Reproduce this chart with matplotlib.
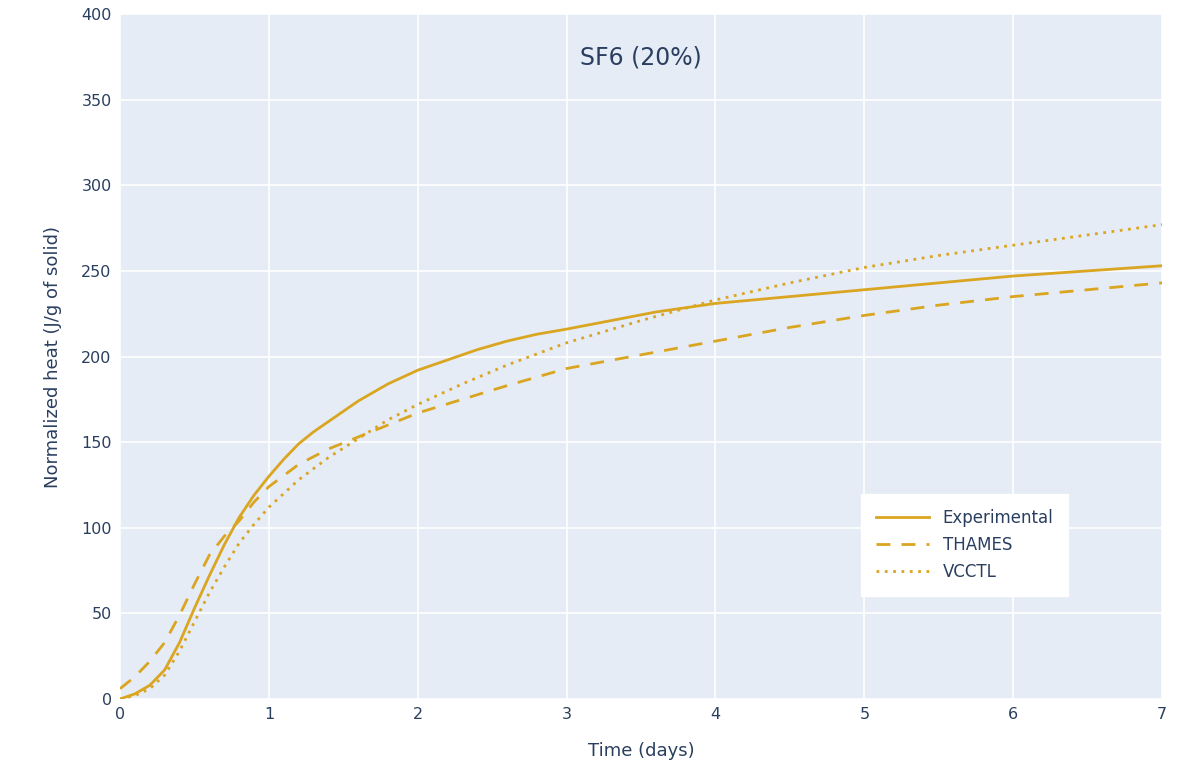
import numpy as np
import matplotlib.pyplot as plt

# values
exp_t = [0, 0.1, 0.2, 0.3, 0.4, 0.5, 0.6, 0.7, 0.8, 0.9, 1.0, 1.1, 1.2, 1.3, 1.4, 1.5, 1.6, 1.7,
         1.8, 1.9, 2.0, 2.2, 2.4, 2.6, 2.8, 3.0, 3.3, 3.6, 4.0, 4.5, 5.0, 5.5, 6.0, 6.5, 7.0]
exp_q = [0, 3, 8, 17, 33, 53, 72, 90, 106, 119, 130, 140, 149, 156, 162, 168, 174, 179,
         184, 188, 192, 198, 204, 209, 213, 216, 221, 226, 231, 235, 239, 243, 247, 250, 253]

thames_t = [0, 0.1, 0.2, 0.3, 0.4, 0.5, 0.6, 0.7, 0.8, 0.9, 1.0, 1.2, 1.4, 1.6, 1.8, 2.0,
            2.3, 2.6, 3.0, 3.5, 4.0, 4.5, 5.0, 5.5, 6.0, 6.5, 7.0]
thames_q = [6, 13, 22, 33, 49, 67, 84, 95, 104, 115, 124, 137, 146, 153, 160, 167,
            175, 183, 193, 201, 209, 217, 224, 230, 235, 239, 243]

vcctl_t = [0, 0.1, 0.2, 0.3, 0.4, 0.5, 0.6, 0.7, 0.8, 0.9, 1.0, 1.2, 1.4, 1.6, 1.8, 2.0,
           2.3, 2.6, 3.0, 3.5, 4.0, 4.5, 5.0, 5.5, 6.0, 6.5, 7.0]
vcctl_q = [0, 2, 6, 14, 28, 45, 62, 77, 91, 102, 112, 128, 141, 152, 163, 172,
           184, 195, 208, 221, 233, 243, 252, 259, 265, 271, 277]

color = '#DAA520'
txt = '#2a3f5f'

fig = plt.figure(figsize=(11.86, 7.71), dpi=100)
ax = fig.add_axes([0.1012, 0.0934, 0.8786, 0.8884])
ax.set_facecolor('#e5ecf6')

ax.plot(exp_t, exp_q, color=color, lw=2.0, label='Experimental')
ax.plot(thames_t, thames_q, color=color, lw=2.0, ls=(0, (5, 4)), label='THAMES')
ax.plot(vcctl_t, vcctl_q, color=color, lw=2.0, ls=(0, (1, 2)), label='VCCTL')

ax.set_xlim(0, 7)
ax.set_ylim(0, 400)
ax.set_xticks(range(0, 8))
ax.set_yticks(range(0, 401, 50))
ax.grid(color='white', lw=1.2)
ax.set_axisbelow(True)
for s in ax.spines.values():
    s.set_visible(False)
ax.tick_params(length=0, labelsize=11.5, colors=txt, pad=6)

ax.set_xlabel('Time (days)', fontsize=13, color=txt, labelpad=14)
ax.set_ylabel('Normalized heat (J/g of solid)', fontsize=13, color=txt, labelpad=14)
ax.text(0.5, 0.936, 'SF6 (20%)', transform=ax.transAxes, ha='center', va='center',
        fontsize=17, color=txt)

leg = ax.legend(loc='lower left', bbox_to_anchor=(0.703, 0.138), frameon=True,
                fancybox=False, fontsize=12, handlelength=3.2, labelspacing=0.55,
                borderpad=0.9)
leg.get_frame().set_facecolor('white')
leg.get_frame().set_edgecolor('white')
leg.get_frame().set_alpha(1)
for t in leg.get_texts():
    t.set_color(txt)

fig.savefig('out.png', dpi=100)
